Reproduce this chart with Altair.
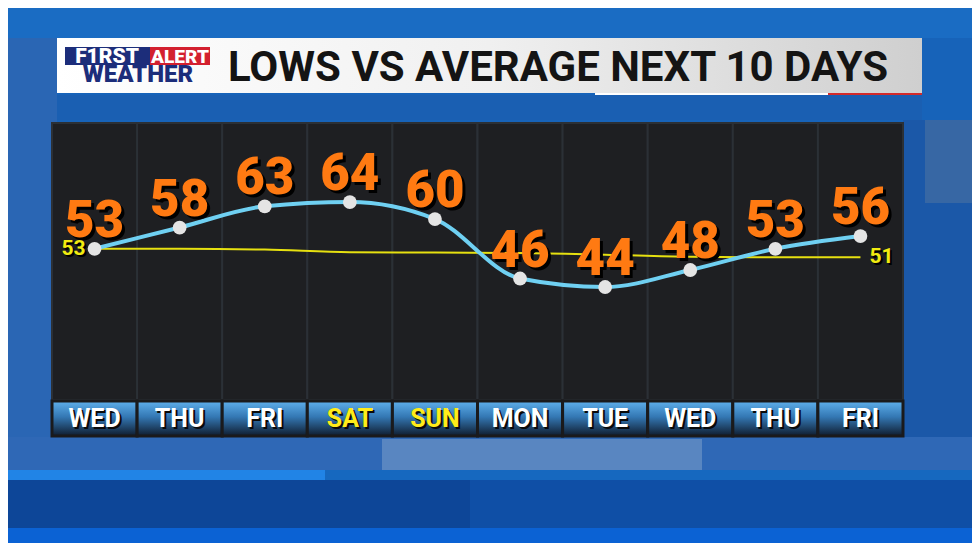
import altair as alt
import pandas as pd

# ---- data ----
slots = list(range(10))
days = ["WED", "THU", "FRI", "SAT", "SUN", "MON", "TUE", "WED", "THU", "FRI"]
weekend = [False, False, False, True, True, False, False, False, False, False]
lows = [53, 58, 63, 64, 60, 46, 44, 48, 53, 56]
avg = [53, 53, 52.8, 52.2, 52.1, 52, 51.6, 51.1, 51, 51]
title_text = "LOWS VS AVERAGE NEXT 10 DAYS"

df = pd.DataFrame({"slot": slots, "day": days, "weekend": weekend,
                   "low": lows, "avg": avg})
one = pd.DataFrame({"k": [0]})

W, H = 851, 314
NARROW = "Roboto, Liberation Sans, sans-serif"
HEAVY = "Roboto, Lato, sans-serif"

x_enc = alt.X("slot:O", scale=alt.Scale(type="band", paddingInner=0, paddingOuter=0), axis=None)
y_scale = alt.Scale(domain=[8.7, 82.6], zero=False, nice=False)
y_low = alt.Y("low:Q", scale=y_scale, axis=None)
y_avg = alt.Y("avg:Q", scale=y_scale, axis=None)


def box(x1, x2, y1, y2, color, **kw):
    return alt.Chart(one).mark_rect(color=color, **kw).encode(
        x=alt.value(x1), x2=alt.value(x2), y=alt.value(y1), y2=alt.value(y2))


def label(txt, x, y, size, color, **kw):
    return alt.Chart(one).mark_text(text=txt, fontSize=size, color=color, **kw).encode(
        x=alt.value(x), y=alt.value(y))


# ---- background decoration ----
bg = [
    box(-44, 920, -115, -85, "#1a6cc3"),
    box(5, 870, -28, -3, "#1a5fb2"),
    box(-44, 5, -85, 330, "#2a66b4"),
    box(851, 920, -3, 330, "#1b58a8"),
    box(873, 920, -3, 80, "#5a7aa0", opacity=0.45),
    box(-44, 920, 314, 347, "#2f68b6"),
    box(330, 650, 316, 347, "#8fabcf", opacity=0.45),
    box(-44, 920, 347, 357, "#1668bf"),
    box(-44, 273, 347, 357, "#2184e6"),
    box(-44, 920, 357, 405, "#0d4698"),
    box(418, 920, 357, 405, "#0f4fa6"),
    box(-44, 920, 405, 420, "#0b62d4"),
]

title_grad = alt.Gradient(gradient="linear", x1=0, x2=1, y1=0, y2=0,
                          stops=[alt.GradientStop(color="#ffffff", offset=0),
                                 alt.GradientStop(color="#f0f0f0", offset=0.5),
                                 alt.GradientStop(color="#cfcfcf", offset=1)])
title_layers = [
    box(5, 870, -85, -30, title_grad),
    box(543, 776, -30, -28, "#ffffff"),
    box(776, 870, -30, -28, "#d42a2a"),
    box(13, 98, -76, -58, "#1c2d7a"),
    box(98, 158, -76, -58, "#d3202f"),
    label("F1RST", 55, -66, 21, "white", font=NARROW, fontWeight=900, baseline="middle"),
    label("ALERT", 128, -66, 19, "white", font=NARROW, fontWeight=900, baseline="middle"),
    label("WEATHER", 86, -48, 24, "#1c2d7a", font=NARROW, fontWeight=900, baseline="middle"),
    label(title_text, 506, -55, 42, "#141414", font=NARROW, fontWeight="bold", baseline="middle"),
]

# ---- panel ----
panel = box(0, W, 0, H, "#1a1a1c")
columns = alt.Chart(df).mark_rect(color="#1e1f22", stroke="#2b3036", strokeWidth=2).encode(
    x=x_enc, y=alt.value(0), y2=alt.value(277))

cell_grad = alt.Gradient(gradient="linear", x1=0, x2=0, y1=0, y2=1,
                         stops=[alt.GradientStop(color="#5fb0ec", offset=0),
                                alt.GradientStop(color="#3478b4", offset=0.45),
                                alt.GradientStop(color="#0f1c2e", offset=1)])
cells = alt.Chart(df).mark_rect(color=cell_grad, stroke="#1a1a1c", strokeWidth=3).encode(
    x=x_enc, y=alt.value(278), y2=alt.value(313))
day_color = alt.condition(alt.datum.weekend, alt.value("#ffec1a"), alt.value("#ffffff"))
day_shadow = alt.Chart(df).mark_text(font=NARROW, fontWeight="bold", fontSize=25, baseline="middle",
                                     color="#0a0a0a", dx=2, dy=2).encode(
    x=x_enc, y=alt.value(296), text="day:N")
day_text = alt.Chart(df).mark_text(font=NARROW, fontWeight="bold", fontSize=25, baseline="middle").encode(
    x=x_enc, y=alt.value(296), text="day:N", color=day_color)

# ---- data marks ----
avg_line = alt.Chart(df).mark_line(color="#e6e010", strokeWidth=2, interpolate="monotone").encode(
    x=x_enc, y=y_avg)
low_line = alt.Chart(df).mark_line(color="#6fd0f2", strokeWidth=4, interpolate="monotone").encode(
    x=x_enc, y=y_low)
num_shadow = alt.Chart(df).mark_text(font=HEAVY, fontWeight=900, fontSize=51, baseline="alphabetic",
                                     color="#000000", dx=3, dy=-9).encode(
    x=x_enc, y=y_low, text="low:Q")
num_text = alt.Chart(df).mark_text(font=HEAVY, fontWeight=900, fontSize=51, baseline="alphabetic",
                                   color="#ff7a12", dy=-12).encode(
    x=x_enc, y=y_low, text="low:Q")
points = alt.Chart(df).mark_circle(size=190, color="#e4e4e4", opacity=1).encode(x=x_enc, y=y_low)

first_avg = alt.Chart(df).transform_filter(alt.datum.slot == 0)
last_avg = alt.Chart(df).transform_filter(alt.datum.slot == 9)
avg_labels = [
    first_avg.mark_text(font=HEAVY, fontWeight="bold", fontSize=21, align="right", baseline="middle",
                        color="black", dx=-7, dy=2).encode(x=x_enc, y=y_avg, text=alt.Text("avg:Q", format=".0f")),
    first_avg.mark_text(font=HEAVY, fontWeight="bold", fontSize=21, align="right", baseline="middle",
                        color="#f2ec10", dx=-9).encode(x=x_enc, y=y_avg, text=alt.Text("avg:Q", format=".0f")),
    last_avg.mark_text(font=HEAVY, fontWeight="bold", fontSize=21, align="left", baseline="middle",
                       color="black", dx=11, dy=2).encode(x=x_enc, y=y_avg, text=alt.Text("avg:Q", format=".0f")),
    last_avg.mark_text(font=HEAVY, fontWeight="bold", fontSize=21, align="left", baseline="middle",
                       color="#f2ec10", dx=9).encode(x=x_enc, y=y_avg, text=alt.Text("avg:Q", format=".0f")),
]

chart = alt.layer(
    *bg, *title_layers, panel, columns, cells, day_shadow, day_text,
    avg_line, low_line, num_shadow, num_text, points, *avg_labels
).properties(
    width=W, height=H,
    padding={"left": 44, "top": 115, "right": 69, "bottom": 106},
    autosize=alt.AutoSizeParams(type="none"),
    background="#1763b9",
).configure_view(stroke=None)

chart.save("out.html", embed_options={"renderer": "svg", "actions": False})
